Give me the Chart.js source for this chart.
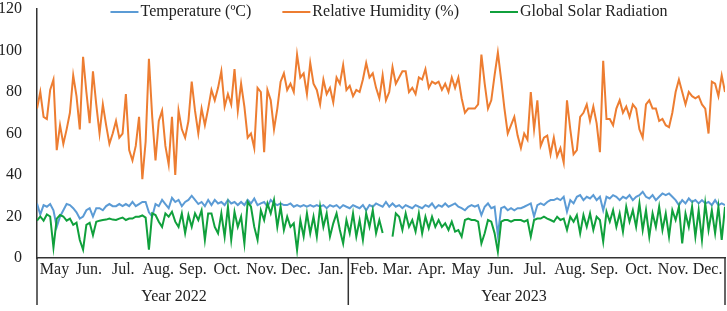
<!DOCTYPE html>
<html>
<head>
<meta charset="utf-8">
<script src="https://cdn.jsdelivr.net/npm/chart.js@4.4.1/dist/chart.umd.min.js"></script>
<style>
  html, body { margin: 0; padding: 0; background: #fff; }
  #wrap { width: 727px; height: 311px; }
</style>
</head>
<body>
<div id="wrap"><canvas id="myChart" width="727" height="311"></canvas></div>
<script>
// month groups along the bottom axis (daily data, May 2022 - Dec 2023)
const months = ['May', 'Jun.', 'Jul.', 'Aug.', 'Sep.', 'Oct.', 'Nov.', 'Dec.', 'Jan.',
                'Feb.', 'Mar.', 'Apr.', 'May', 'Jun.', 'Jul.', 'Aug.', 'Sep.', 'Oct.', 'Nov.', 'Dec.'];
const monthDays = [31, 30, 31, 31, 30, 31, 30, 31, 31, 28, 31, 30, 31, 30, 31, 31, 30, 31, 30, 31];
const years = ['Year 2022', 'Year 2023'];
const monthsPerYear = [9, 11];
const yTicks = [0, 20, 40, 60, 80, 100, 120];

// values, roughly every 3 days
const temperature = [
  26.3, 21, 25.5, 24.7, 26, 23, 15, 20, 23, 26, 25.5, 24, 22, 19, 20, 23, 24, 20, 24, 24,
  23, 25, 26, 25, 25, 26, 25, 26, 25, 27, 25, 26, 27, 27, 22, 20, 26, 25, 28, 26,
  24, 29, 27, 28, 25, 27, 28, 30, 28, 26, 27, 25, 28,
  25.5, 28, 26.3, 27, 25.5, 28, 26.3, 27, 25.5, 27, 25.5, 28, 26.3, 28.7, 25.5, 26.3, 27, 24.7, 28, 26.3,
  25.5, 26.3, 25.5, 25.5, 26.3, 24.7, 25.5, 24.7, 25.5, 24.7, 25.5, 24.7, 25.5, 24.7, 25.5, 24, 25.5, 24.7, 25.5, 24,
  25.5, 24.7, 24, 25.5, 24.7, 24, 25.5, 23, 25.5, 24.7, 26.3, 25.5,
  24.7, 27, 24.7, 26.3, 24.7, 25.5, 24, 25.5, 24.7, 24, 25.5, 24.7, 24, 25.5, 24.7, 26.3, 24, 25.5, 24.7, 26.3,
  24.7, 25.5, 26.3, 24.7, 24, 23, 24.7, 25.5, 24.7, 25.5, 20.7, 24.7, 26.3, 24, 24.7, 11, 24, 24.7, 23, 24,
  23, 24, 24, 24.7, 25.5, 26.3, 20, 25.5, 26.3, 25.5, 27, 27.9,
  27.9, 28.7, 27.9, 29.5, 22.3, 27.9, 26.3, 29.5, 30.3, 27.9, 29.5, 28.7, 30.3, 27.9, 29.5, 23, 29.5, 28.7, 30.3, 29.5,
  27.9, 29.5, 28.7, 30.3, 27.9, 29.5, 30.3, 31.9, 29.5, 28.7, 30.3, 27.9, 29.5, 31.1, 30.3, 31.1, 29.5, 27.9, 25.5, 27.9,
  26.3, 28.7, 27, 27.9, 26.3, 27.9, 26.3, 27, 25.5, 27.9, 25.5, 26.3, 25.5
];

const humidity = [
  72, 80, 68, 67, 81, 86, 52, 64, 55, 62, 70, 88, 78, 62, 97, 80, 65, 90, 74, 60,
  74, 64, 55, 60, 66, 58, 60, 79, 52, 47, 54, 68, 38, 56, 96, 68, 47, 66, 71, 54,
  45, 68, 40, 71, 62, 58, 66, 85, 71, 60, 72, 64, 72,
  81, 76, 82, 90, 73, 79, 74, 91, 71, 84, 73, 58, 60, 53, 82, 80, 51, 81, 76, 62,
  72, 85, 89, 81, 84, 80, 98, 87, 89, 79, 94, 84, 81, 74, 86, 79, 82, 75, 87, 84,
  93, 81, 83, 78, 81, 80, 86, 94, 87, 89, 82, 77,
  88, 76, 80, 92, 84, 87, 90, 90, 80, 82, 79, 87, 86, 91, 82, 85, 84, 85, 81, 84,
  80, 87, 82, 87, 77, 70, 72, 72, 72, 74, 98, 84, 72, 76, 88, 99, 86, 72, 60, 64,
  68, 59, 53, 60, 57, 80, 62, 76, 54, 58, 59, 50,
  58, 49, 53, 46, 76, 62, 50, 52, 68, 70, 74, 66, 73, 65, 51, 95, 67, 67, 64, 72,
  76, 70, 73, 68, 74, 72, 62, 58, 74, 76, 72, 72, 66, 67, 64, 63, 70, 80, 86, 80,
  74, 80, 78, 77, 78, 74, 72, 60, 85, 84, 78, 88, 80
];

const solar = [
  18, 20, 18, 21, 20, 5, 19, 20.7, 20, 18, 19, 16, 17, 8.7, 4, 16, 17, 11, 17.5, 18,
  18.3, 18.5, 19, 18.5, 18.3, 19, 19.5, 18.3, 19, 19, 19.9, 19.9, 20.5, 19.5, 4, 21.5, 20.7, 17.5, 15, 21.5,
  19.9, 22.3, 17.5, 15, 21.5, 12, 20.7, 15, 21.5, 18.3, 23, 8.7, 21.5,
  21.5, 15, 11.9, 21.5, 10.3, 24.7, 8.7, 22.3, 15, 19.9, 7, 27, 24.7, 15, 8.7, 23, 18.3, 26.3, 21.5, 27.9,
  15, 24.7, 13.5, 19.9, 15, 16.7, 3.8, 18.3, 10.3, 21.5, 11.9, 19.9, 10.3, 24.7, 15, 21.5, 10.3, 16.7, 21.5, 13.5,
  7, 18.3, 11.9, 21.5, 10.3, 18.3, 8.7, 21.5, 15, 23, 11.9, 18.3,
  12, null, null, 10.3, 21.5, 19.9, 13.5, 21.5, 15, 18.3, 12.7, 21.5, 11.9, 19.9, 14.3, 19.9, 15, 18.3, 15, 16.7,
  13.5, 17.5, 12.7, 13.5, 10.3, 18.3, 19, 18.3, 18.3, 17.5, 7, 11.9, 18.3, 17.5, 12, 3, 17.5, 18.3, 18.3, 17.5,
  18.3, 18.3, 18.3, 17.5, 18.3, 10.3, 18.3, 19, 19, 19.9, 19, 18.3,
  17.5, 19.9, 18.3, 19, 13.5, 19.9, 17.5, 20.7, 11.9, 20.7, 15, 21.5, 13.5, 19.9, 18.3, 7.9, 22.3, 17.5, 23, 15,
  21.5, 12.7, 24.7, 17.5, 23, 15, 26.3, 13.5, 23, 10.3, 21.5, 15, 24.7, 13.5, 21.5, 10.3, 23, 18.3, 24.7, 7,
  21.5, 15, 24.7, 10.3, 23, 8.7, 26.3, 13.5, 23, 11.9, 24.7, 8.7, 24.7
];

const TOTAL_DAYS = monthDays.reduce((a, b) => a + b, 0);
const FONT = '16px "Liberation Serif", "Times New Roman", serif';
const AXIS = '#333333';

function toPoints(values) {
    const step = TOTAL_DAYS / (values.length - 1);
    return values.map((v, i) => ({ x: i * step, y: v }));
}

// month / year labels, group lines and the legend drawn on top
const bottomAxis = {
    id: 'bottomAxis',
    afterDraw(chart) {
        const ctx = chart.ctx;
        const xs = chart.scales.x;
        const area = chart.chartArea;
        ctx.save();
        ctx.font = FONT;
        ctx.fillStyle = '#222';
        ctx.textAlign = 'center';
        ctx.textBaseline = 'middle';

        let d = 0;
        months.forEach((m, i) => {
            const c = xs.getPixelForValue(d + monthDays[i] / 2);
            ctx.fillText(m, c, area.bottom + 12);
            d += monthDays[i];
        });

        ctx.strokeStyle = AXIS;
        ctx.lineWidth = 1.5;
        const lineBottom = area.bottom + 47;
        const vline = x => {
            ctx.beginPath();
            ctx.moveTo(x, area.bottom);
            ctx.lineTo(x, lineBottom);
            ctx.stroke();
        };
        vline(area.left);
        let start = 0, mi = 0;
        years.forEach((y, k) => {
            let days = 0;
            for (let j = 0; j < monthsPerYear[k]; j++) days += monthDays[mi++];
            const x0 = xs.getPixelForValue(start);
            const x1 = xs.getPixelForValue(start + days);
            ctx.fillText(y, x0 + (x1 - x0) * 0.44, area.bottom + 39);
            vline(x1);
            start += days;
        });

        // legend
        const sets = chart.data.datasets;
        const sample = 28, gap = 2, spacing = 31;
        const widths = sets.map(s => ctx.measureText(s.label).width);
        const total = widths.reduce((a, w) => a + sample + gap + w, 0) + spacing * (sets.length - 1);
        let x = (area.left + area.right) / 2 + 8 - total / 2;
        const ly = 12;
        ctx.textAlign = 'left';
        sets.forEach((s, i) => {
            ctx.strokeStyle = s.borderColor;
            ctx.lineWidth = 2;
            ctx.beginPath();
            ctx.moveTo(x, ly);
            ctx.lineTo(x + sample, ly);
            ctx.stroke();
            ctx.fillStyle = '#222';
            ctx.fillText(s.label, x + sample + gap, ly);
            x += sample + gap + widths[i] + spacing;
        });
        ctx.restore();
    }
};

const config = {
    type: 'line',
    data: {
        datasets: [{
            label: 'Temperature (ºC)',
            data: toPoints(temperature),
            borderColor: '#5B9BD5',
            borderWidth: 2,
            order: 3
        }, {
            label: 'Relative Humidity (%)',
            data: toPoints(humidity),
            borderColor: '#ED7D31',
            borderWidth: 2,
            order: 2
        }, {
            label: 'Global Solar Radiation',
            data: toPoints(solar),
            borderColor: '#10A03C',
            borderWidth: 2,
            order: 1
        }]
    },
    options: {
        responsive: false,
        animation: false,
        spanGaps: false,
        elements: {
            point: { radius: 0 },
            line: { tension: 0, fill: false }
        },
        layout: { padding: { top: 9, right: 2, left: 0, bottom: 0 } },
        plugins: {
            legend: { display: false },
            tooltip: { enabled: false }
        },
        scales: {
            x: {
                type: 'linear',
                min: 0,
                max: TOTAL_DAYS,
                ticks: { display: false },
                grid: { display: false, drawTicks: false },
                border: { display: true, color: AXIS, width: 1.5 },
                afterFit: s => { s.height = 53; s.paddingLeft = 0; s.paddingRight = 0; }
            },
            y: {
                min: 0,
                max: 120,
                afterBuildTicks: s => { s.ticks = yTicks.map(v => ({ value: v })); },
                ticks: { font: { family: '"Liberation Serif", "Times New Roman", serif', size: 16 }, color: '#222', padding: 15 },
                grid: { display: false, drawTicks: false },
                border: { display: true, color: AXIS, width: 1.5 },
                afterFit: s => { s.width = 37; s.paddingTop = 0; s.paddingBottom = 0; }
            }
        }
    },
    plugins: [bottomAxis]
};

const ctx = document.getElementById('myChart').getContext('2d');
new Chart(ctx, config);
</script>
</body>
</html>
